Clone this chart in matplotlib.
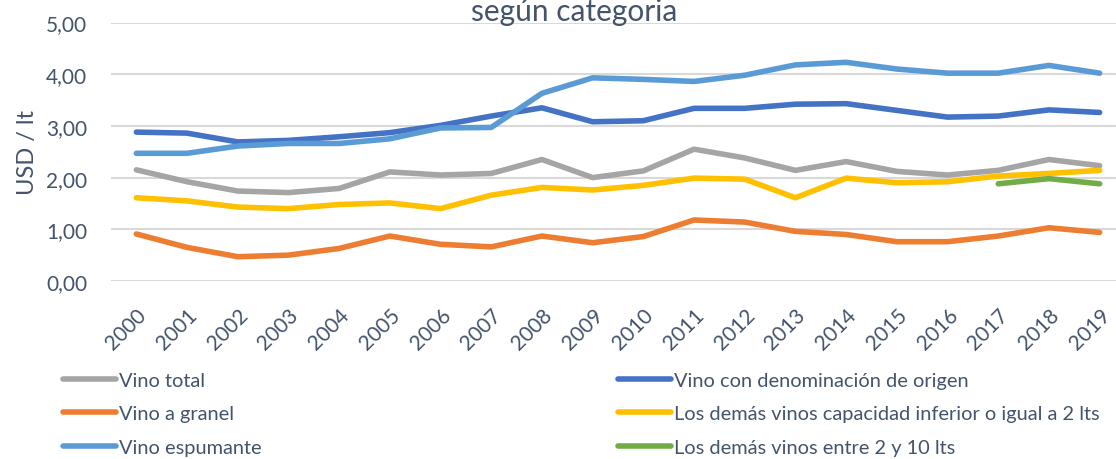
import numpy as np
import matplotlib
matplotlib.use("Agg")
import matplotlib.pyplot as plt

plt.rcParams['font.family'] = ['Lato', 'DejaVu Sans']

years = [str(y) for y in range(2000, 2020)]

vino_total = [2.15, 1.92, 1.74, 1.71, 1.79, 2.11, 2.05, 2.08, 2.35, 2.00,
              2.13, 2.55, 2.38, 2.14, 2.31, 2.12, 2.05, 2.14, 2.35, 2.23]
vino_do = [2.88, 2.86, 2.69, 2.72, 2.79, 2.87, 3.01, 3.19, 3.35, 3.08,
           3.10, 3.34, 3.34, 3.42, 3.43, 3.30, 3.17, 3.19, 3.31, 3.26]
vino_granel = [0.91, 0.65, 0.47, 0.50, 0.63, 0.87, 0.71, 0.66, 0.87, 0.74,
               0.86, 1.18, 1.14, 0.96, 0.90, 0.76, 0.76, 0.87, 1.03, 0.94]
demas_2lts = [1.61, 1.55, 1.43, 1.40, 1.48, 1.51, 1.40, 1.66, 1.81, 1.76,
              1.85, 1.99, 1.97, 1.61, 1.99, 1.90, 1.92, 2.03, 2.08, 2.14]
espumante = [2.47, 2.47, 2.61, 2.66, 2.66, 2.75, 2.96, 2.97, 3.63, 3.93,
             3.90, 3.86, 3.98, 4.18, 4.23, 4.10, 4.02, 4.02, 4.17, 4.02]
demas_2_10 = [np.nan] * 17 + [1.88, 1.98, 1.88]

text_col = '#44546A'

fig = plt.figure(figsize=(11.16, 4.6), dpi=100)
ax = fig.add_axes([111 / 1116, 1 - 282 / 460, 1014 / 1116, (282 - 23.5) / 460])

x = np.arange(len(years))
lw = 4
l_total, = ax.plot(x, vino_total, color='#A5A5A5', lw=lw, solid_capstyle='round', label='Vino total')
l_do, = ax.plot(x, vino_do, color='#4472C4', lw=lw, solid_capstyle='round', label='Vino con denominación de origen')
l_gran, = ax.plot(x, vino_granel, color='#ED7D31', lw=lw, solid_capstyle='round', label='Vino a granel')
l_2, = ax.plot(x, demas_2lts, color='#FFC000', lw=lw, solid_capstyle='round',
               label='Los demás vinos capacidad inferior o igual a 2 lts')
l_esp, = ax.plot(x, espumante, color='#5B9BD5', lw=lw, solid_capstyle='round', label='Vino espumante')
l_210, = ax.plot(x, demas_2_10, color='#70AD47', lw=lw, solid_capstyle='round', label='Los demás vinos entre 2 y 10 lts')

ax.set_xlim(-0.5, 19.5)
ax.set_ylim(0, 5)
ax.set_yticks(np.arange(0, 5.01, 1))
ax.set_yticklabels(['0,00', '1,00', '2,00', '3,00', '4,00', '5,00'], fontsize=15, color=text_col)
ax.set_xticks(x)
ax.set_xticklabels(years, fontsize=15, color=text_col, rotation=45,
                   ha='right', va='top', rotation_mode='anchor')
ax.tick_params(length=0)
ax.tick_params(axis='y', pad=17)
ax.tick_params(axis='x', pad=17)
ax.grid(axis='y', color='#D9D9D9', lw=1.5)
ax.set_axisbelow(True)
for s in ax.spines.values():
    s.set_visible(False)

ax.set_ylabel('USD / lt', fontsize=17, color=text_col, labelpad=6)

fig.text(574 / 1116, 1 - 21.5 / 460, 'según categoria', fontsize=21.5, color=text_col,
         ha='center', va='baseline')

leg_kw = dict(frameon=False, fontsize=14.4, handlelength=2.65, handletextpad=0.15,
              labelspacing=0.82, borderaxespad=0, borderpad=0)
leg1 = fig.legend([l_total, l_gran, l_esp], [l.get_label() for l in (l_total, l_gran, l_esp)],
                  loc='upper left', bbox_to_anchor=(63 / 1116, 1 - 373 / 460), **leg_kw)
leg2 = fig.legend([l_do, l_2, l_210], [l.get_label() for l in (l_do, l_2, l_210)],
                  loc='upper left', bbox_to_anchor=(618 / 1116, 1 - 373 / 460), **leg_kw)
for leg in (leg1, leg2):
    for t in leg.get_texts():
        t.set_color(text_col)

fig.savefig('out.png', dpi=100)
